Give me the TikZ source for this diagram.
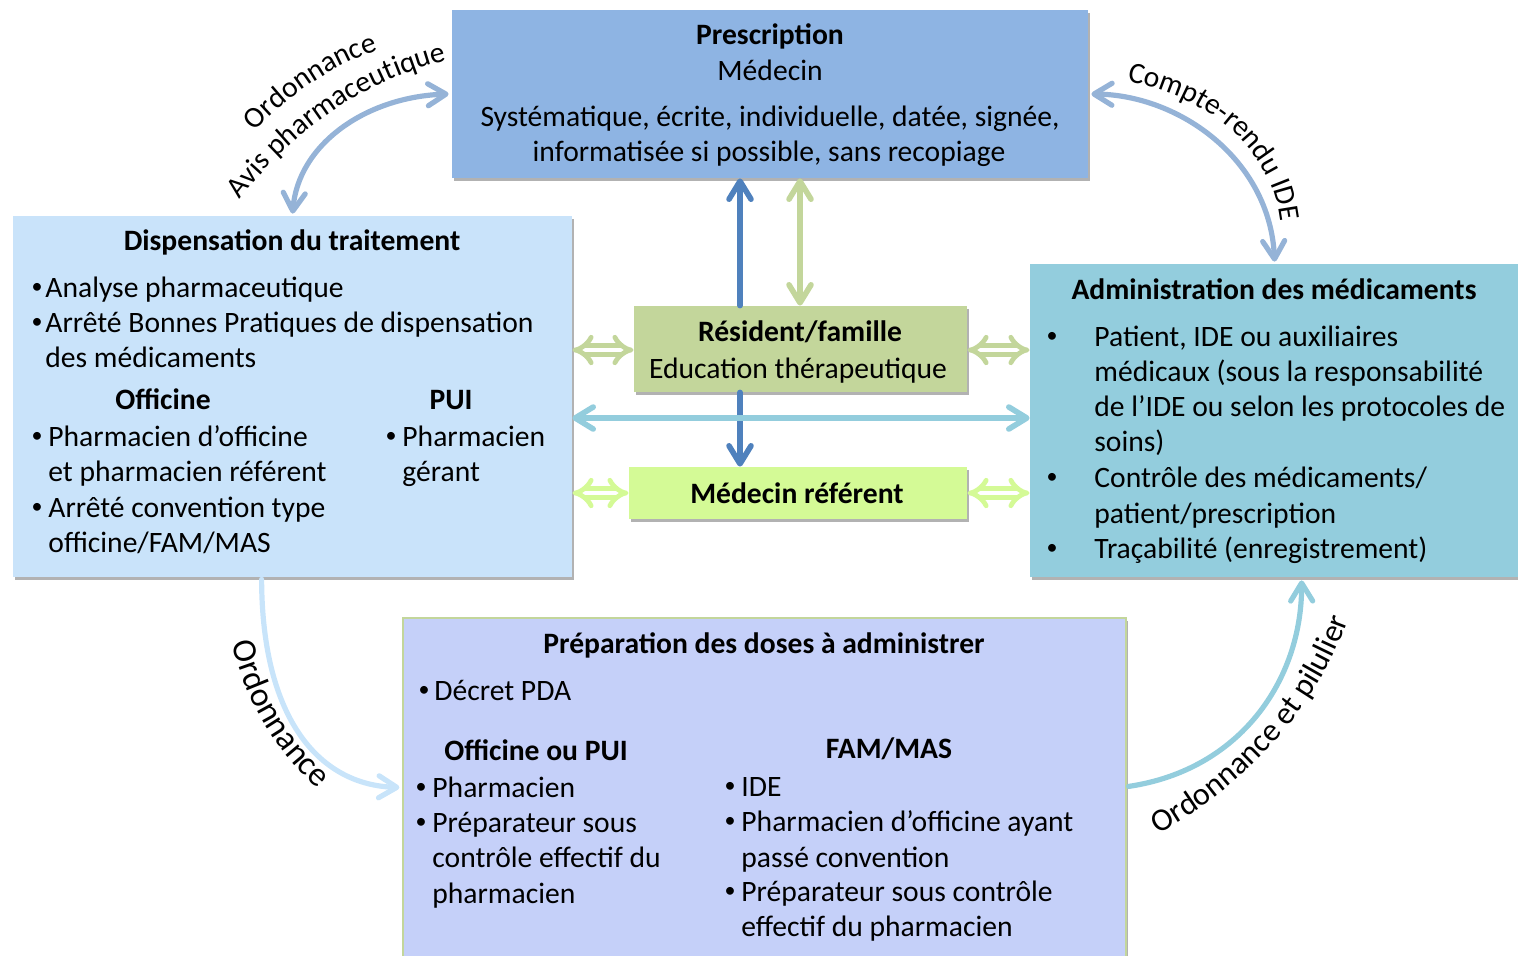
\documentclass[tikz,border=0pt]{standalone}
\usepackage{fontspec}
\setmainfont{Carlito}
\usetikzlibrary{arrows.meta,shadows,fit,calc,decorations.text}
\newcommand\mainf{\fontsize{14.8}{17.8}\selectfont}
\newcommand\lblf{\fontsize{14.8}{14.8}\selectfont}
\newcommand\lblg{\fontsize{17}{17}\selectfont}
\newcommand\lblh{\fontsize{16}{16}\selectfont}
\newcommand\bulf{\fontsize{11}{12}\selectfont}
\definecolor{cpresc}{RGB}{142,180,227}
\definecolor{cdisp}{RGB}{201,227,250}
\definecolor{cadmin}{RGB}{147,205,221}
\definecolor{cres}{RGB}{195,214,155}
\definecolor{cmed}{RGB}{212,250,150}
\definecolor{cprep}{RGB}{197,208,249}
\definecolor{cprepb}{RGB}{195,214,155}
\definecolor{cdark}{RGB}{79,129,189}
\definecolor{ctop}{RGB}{149,179,215}
\definecolor{cdisparr}{RGB}{200,228,250}
\begin{document}
\begin{tikzpicture}[x=0.5pt,y=-0.5pt,
  >={Straight Barb[length=9pt,width=11pt,round]},
  box/.style={inner sep=0pt, draw=none, drop shadow={shadow xshift=0.8pt, shadow yshift=-1.5pt, opacity=0.3, fill=black}},
  tl/.style={font=\mainf, inner sep=0pt, anchor=mid west, yshift=-3pt},
  tc/.style={font=\mainf, inner sep=0pt, anchor=mid, yshift=-3pt},
  tb/.style={font=\mainf\bfseries, inner sep=0pt, anchor=mid, yshift=-3pt},
  bu/.style={font=\bulf, inner sep=0pt, anchor=center, yshift=-0.5pt},
  conn/.style={line width=2.8pt, line cap=round},
  curv/.style={line width=2.6pt, line cap=round},
  dbl/.style={double=white, double distance=2.4pt, line width=2.4pt, arrows={Implies[scale=1.35]-Implies[scale=1.35]}},
  lbl/.style 2 args={decorate, decoration={text along path, text align=center, text={|#1|#2}}}
]
\useasboundingbox (0,0) rectangle (1518,955);

% ---- boxes
\node[box, fill=cpresc, fit={(452,10) (1088,178)}] (presc) {};
\node[box, fill=cdisp, fit={(13,216) (572,577)}] (disp) {};
\node[box, fill=cadmin, fit={(1030,264) (1522,577)}] (admin) {};
\node[box, fill=cres, fit={(634,306) (967,392)}] (res) {};
\node[box, fill=cmed, fit={(629,467) (967,519)}] (medref) {};
\node[box, fill=cprep, draw=cprepb, line width=0.6pt, fit={(403,618) (1126,968)}] (prep) {};

% ---- straight connectors
\coordinate (xb) at (740,0);
\coordinate (xg) at (800,0);
\coordinate (yh) at (0,418);
\coordinate (yr) at (0,350);
\coordinate (ym) at (0,493);
\draw[conn, cdark, <-] (presc.south -| xb) -- (res.north -| xb);
\draw[conn, cdark, ->] (res.south -| xb) -- (medref.north -| xb);
\draw[conn, cres, <->] (presc.south -| xg) -- (res.north -| xg);
\draw[conn, cadmin, <->] (disp.east |- yh) -- (admin.west |- yh);
\draw[dbl, cres] (disp.east |- yr) -- (res.west |- yr);
\draw[dbl, cres] (res.east |- yr) -- (admin.west |- yr);
\draw[dbl, cmed] (disp.east |- ym) -- (medref.west |- ym);
\draw[dbl, cmed] (medref.east |- ym) -- (admin.west |- ym);

% ---- curved connectors
\draw[curv, ctop, <->] ($(disp.north west)+(280,-2)$) .. controls (298,145) and (365,97) .. ($(presc.west)+(-3,0)$);
\draw[curv, ctop, <->] ($(presc.east)+(3,0)$) .. controls (1180,95) and (1270,160) .. ($(admin.north west)+(245,-2)$);
\draw[curv, cdisparr, ->] ($(disp.south west)+(249,2)$) .. controls (262,720) and (320,785) .. ($(prep.north west)+(-3,170)$);
\draw[curv, cadmin, ->] ($(prep.north east)+(2,169)$) .. controls (1240,770) and (1302,680) .. ($(admin.south west)+(272,3)$);

% ---- curved labels
\path[lbl={\lblf}{Ordonnance}] (250,137) .. controls (285,98) and (330,65) .. (385,48);
\path[lbl={\lblf}{Avis pharmaceutique}] (238,202) .. controls (285,140) and (355,82) .. (450,60);
\path[lbl={\lblf}{Compte-rendu IDE}] (1117,80) .. controls (1205,92) and (1278,150) .. (1281,232);
\path[lbl={\lblg}{Ordonnance}] (225,612) .. controls (238,690) and (276,764) .. (344,808);
\path[lbl={\lblh}{Ordonnance et pilulier}] (1136,846) .. controls (1238,795) and (1322,712) .. (1356,596);

% ---- Prescription
\node[tb] (p1) at (770,34) {Prescription};
\node[tc] (p2) at (770,70) {Médecin};
\node[tc] (p3) at (770,116) {Systématique, écrite, individuelle, datée, signée,};
\node[tc] (p4) at (769,151) {informatisée si possible, sans recopiage};

% ---- Dispensation
\node[tb] (d0) at (292,240) {Dispensation du traitement};
\node[bu] (d1b) at (37,287) {•};
\node[tl] (d1) at (45,287) {Analyse pharmaceutique};
\node[bu] (d2b) at (37,322) {•};
\node[tl] (d2) at (45,322) {Arrêté Bonnes Pratiques de dispensation};
\node[tl] (d3) at (45,357) {des médicaments};
\node[tb] (d4) at (163,399) {Officine};
\node[tb] (d5) at (451,399) {PUI};
\node[bu] (d6b) at (37,436) {•};
\node[tl] (d6) at (48,436) {Pharmacien d’officine};
\node[tl] (d7) at (48,471) {et pharmacien référent};
\node[bu] (d8b) at (37,507) {•};
\node[tl] (d8) at (48,507) {Arrêté convention type};
\node[tl] (d9) at (48,542) {officine/FAM/MAS};
\node[bu] (d10b) at (391,436) {•};
\node[tl] (d10) at (402,436) {Pharmacien};
\node[tl] (d11) at (402,471) {gérant};

% ---- Résident / Médecin référent
\node[tb] (r1) at (800,331) {Résident/famille};
\node[tc] (r2) at (798,368) {Education thérapeutique};
\node[tb] (m1) at (797,493) {Médecin référent};

% ---- Administration
\node[tb] (a0) at (1274,289) {Administration des médicaments};
\node[bu] (a1b) at (1052,336) {•};
\node[tl] (a1) at (1094,336) {Patient, IDE ou auxiliaires};
\node[tl] (a2) at (1094,371) {médicaux (sous la responsabilité};
\node[tl] (a3) at (1094,406) {de l’IDE ou selon les protocoles de};
\node[tl] (a4) at (1094,441) {soins)};
\node[bu] (a5b) at (1052,477) {•};
\node[tl] (a5) at (1094,477) {Contrôle des médicaments/};
\node[tl] (a6) at (1094,513) {patient/prescription};
\node[bu] (a7b) at (1052,548) {•};
\node[tl] (a7) at (1094,548) {Traçabilité (enregistrement)};

% ---- Préparation
\node[tb] (q0) at (764,643) {Préparation des doses à administrer};
\node[bu] (q1b) at (424,690) {•};
\node[tl] (q1) at (434,690) {Décret PDA};
\node[tb] (q2) at (536,750) {Officine ou PUI};
\node[bu] (q3b) at (421,787) {•};
\node[tl] (q3) at (432,787) {Pharmacien};
\node[bu] (q4b) at (421,822) {•};
\node[tl] (q4) at (432,822) {Préparateur sous};
\node[tl] (q5) at (432,857) {contrôle effectif du};
\node[tl] (q6) at (432,893) {pharmacien};
\node[tb] (q7) at (889,748) {FAM/MAS};
\node[bu] (q8b) at (730,786) {•};
\node[tl] (q8) at (741,786) {IDE};
\node[bu] (q9b) at (730,821) {•};
\node[tl] (q9) at (741,821) {Pharmacien d’officine ayant};
\node[tl] (q10) at (741,857) {passé convention};
\node[bu] (q11b) at (730,891) {•};
\node[tl] (q11) at (741,891) {Préparateur sous contrôle};
\node[tl] (q12) at (741,926) {effectif du pharmacien};
\end{tikzpicture}
\end{document}
